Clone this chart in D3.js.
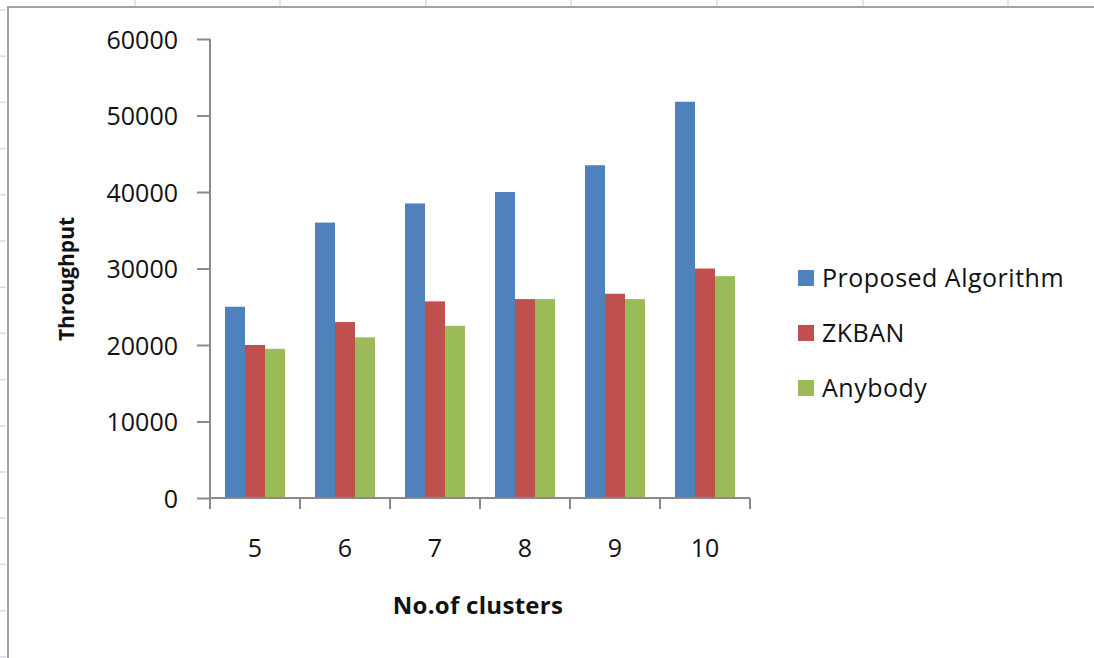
<!DOCTYPE html>
<html>
<head>
<meta charset="utf-8">
<script src="https://cdn.jsdelivr.net/npm/d3@7"></script>
<style>
  html, body { margin: 0; padding: 0; background: #fff; }
  svg { display: block; font-family: "Open Sans", "Lato", sans-serif; }
</style>
</head>
<body>
<svg id="chart" width="1094" height="658"></svg>
<script>
// Cluster counts on the x axis
const categories = ["5", "6", "7", "8", "9", "10"];

// Throughput per cluster count, one array per algorithm
const seriesNames = ["Proposed Algorithm", "ZKBAN", "Anybody"];
const proposedValues = [25000, 36000, 38500, 40000, 43500, 51800];
const zkbanValues    = [20000, 23000, 25700, 26000, 26700, 30000];
const anybodyValues  = [19500, 21000, 22500, 26000, 26000, 29000];
const seriesColors = ["#4F81BD", "#C0504D", "#9BBB59"];

// Y axis tick values
const yTicks = [0, 10000, 20000, 30000, 40000, 50000, 60000];

const seriesValues = [proposedValues, zkbanValues, anybodyValues];

const svg = d3.select("#chart");
const W = 1094, H = 658;

// Spreadsheet cell grid peeking around the chart frame
const gridColor = "#d6dbe4";
const colLines = [135, 280, 426, 571, 717, 863, 1008];
svg.append("g").selectAll("line").data(colLines).join("line")
  .attr("x1", d => d).attr("x2", d => d)
  .attr("y1", 0).attr("y2", 6)
  .attr("stroke", gridColor).attr("stroke-width", 1.5);
const rowLines = d3.range(10, H, 46.2);
svg.append("g").selectAll("line").data(rowLines).join("line")
  .attr("x1", 0).attr("x2", 6)
  .attr("y1", d => d).attr("y2", d => d)
  .attr("stroke", gridColor).attr("stroke-width", 1.5);

// Chart area frame (top and left edges visible)
svg.append("path")
  .attr("d", `M8,${H} L8,7 L${W},7`)
  .attr("fill", "none").attr("stroke", "#a3a3a3").attr("stroke-width", 2);

// Plot area
const plot = { left: 210, right: 750, top: 39, bottom: 498 };

const x0 = d3.scaleBand().domain(categories).range([plot.left, plot.right]).paddingInner(0).paddingOuter(0);
const groupWidth = x0.bandwidth() * (3 / 4.5);
const x1 = d3.scaleBand().domain(seriesNames).range([0, groupWidth]).padding(0);
const y = d3.scaleLinear().domain([0, 60000]).range([plot.bottom, plot.top]);

const axisColor = "#8a8a8a";
const textColor = "#111";

// Bars
const groupOffset = (x0.bandwidth() - groupWidth) / 2;
const barG = svg.append("g");
seriesNames.forEach((name, si) => {
  barG.append("g").selectAll("rect")
    .data(categories.map((c, i) => ({ c, v: seriesValues[si][i] })))
    .join("rect")
    .attr("x", d => x0(d.c) + groupOffset + x1(name))
    .attr("y", d => y(d.v))
    .attr("width", x1.bandwidth())
    .attr("height", d => y(0) - y(d.v))
    .attr("fill", seriesColors[si]);
});

// Y axis
const yAxis = d3.axisLeft(y).tickValues(yTicks).tickSize(13).tickPadding(19).tickFormat(d3.format("d"));
const yG = svg.append("g").attr("transform", `translate(${plot.left},0)`).call(yAxis);
yG.attr("font-family", null).attr("font-size", null);
yG.select(".domain").attr("stroke", axisColor).attr("stroke-width", 2)
  .attr("d", `M0,${plot.top}V${plot.bottom}`);
yG.selectAll(".tick line").attr("stroke", axisColor).attr("stroke-width", 2);
yG.selectAll(".tick text").attr("fill", textColor).attr("font-size", 25).attr("dy", "0.36em");

// X axis: ticks at category boundaries, labels at category centres
const xG = svg.append("g").attr("transform", `translate(0,${plot.bottom})`);
xG.append("line").attr("x1", plot.left).attr("x2", plot.right)
  .attr("y1", 0).attr("y2", 0).attr("stroke", axisColor).attr("stroke-width", 2);
const boundaries = categories.map(c => x0(c)).concat([plot.right]);
xG.selectAll(".xtick").data(boundaries).join("line")
  .attr("x1", d => d).attr("x2", d => d).attr("y1", 0).attr("y2", 11)
  .attr("stroke", axisColor).attr("stroke-width", 2);
xG.selectAll(".xlabel").data(categories).join("text")
  .attr("x", d => x0(d) + x0.bandwidth() / 2)
  .attr("y", 50)
  .attr("dy", "0.36em")
  .attr("text-anchor", "middle")
  .attr("font-size", 25)
  .attr("fill", textColor)
  .text(d => d);

// Axis titles
svg.append("text")
  .attr("transform", `translate(66,${279}) rotate(-90)`)
  .attr("text-anchor", "middle").attr("dy", "0.36em")
  .attr("font-size", 21).attr("font-weight", "bold").attr("fill", textColor)
  .text("Throughput");
svg.append("text")
  .attr("x", 478).attr("y", 605).attr("dy", "0.36em")
  .attr("text-anchor", "middle")
  .attr("font-size", 24).attr("letter-spacing", 0.3).attr("font-weight", "bold").attr("fill", textColor)
  .text("No.of clusters");

// Legend
const legend = svg.append("g").attr("transform", "translate(798,278)");
const legendItems = legend.selectAll("g").data(seriesNames).join("g")
  .attr("transform", (d, i) => `translate(0,${i * 55})`);
legendItems.append("rect")
  .attr("x", 0).attr("y", -8).attr("width", 16).attr("height", 16)
  .attr("fill", (d, i) => seriesColors[i]);
legendItems.append("text")
  .attr("x", 24).attr("y", 0).attr("dy", "0.36em")
  .attr("font-size", 25).attr("letter-spacing", 0.5).attr("fill", textColor)
  .text(d => d);
</script>
</body>
</html>
